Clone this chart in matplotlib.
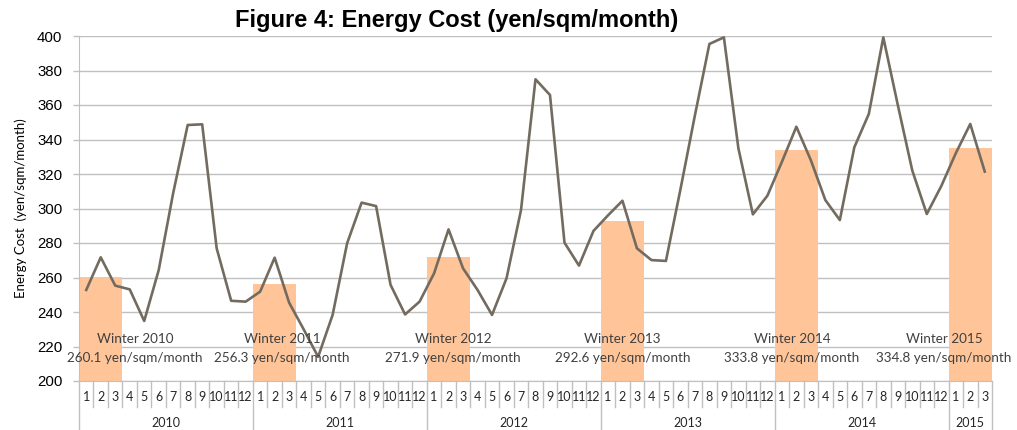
import numpy as np
import matplotlib
matplotlib.use("Agg")
import matplotlib.pyplot as plt
import matplotlib.transforms as mtransforms

# monthly energy cost, Jan 2010 .. Mar 2015
years = [2010, 2011, 2012, 2013, 2014, 2015]
months_per_year = [12, 12, 12, 12, 12, 3]
cost = [
    252.8, 271.7, 255.3, 253.1, 234.8, 264.3, 309.0, 348.4, 348.8, 276.9, 246.5, 246.0,
    251.8, 271.5, 245.4, 230.0, 214.0, 238.3, 279.8, 303.4, 301.4, 255.7, 238.6, 246.0,
    262.4, 287.9, 265.3, 252.8, 238.3, 259.5, 299.1, 374.9, 365.8, 280.2, 266.9, 287.0,
    296.0, 304.5, 276.9, 270.1, 269.6, 311.0, 354.0, 395.4, 399.2, 334.9, 296.6, 307.4,
    327.0, 347.4, 328.0, 304.9, 293.3, 335.5, 354.8, 399.2, 360.0, 322.0, 296.8, 313.0,
    332.0, 349.0, 321.4,
]
# winter (Jan-Mar) averages
winter_avg = [260.1, 256.3, 271.9, 292.6, 333.8, 334.8]

# label placement (month index of text centre)
label_x = [3.36, 13.5, 25.3, 37.0, 48.7, 59.2]

text_font = "Lato"
grid_col = "#C0C0C0"
x = np.arange(len(cost))

fig = plt.figure(figsize=(10.17, 4.30), dpi=100)
ax = fig.add_axes([79 / 1017, 1 - 381 / 430, (992 - 79) / 1017, 345 / 430])

# winter bars centred on February, spanning Jan-Mar
starts = np.cumsum([0] + months_per_year[:-1])
ax.bar(starts + 1, winter_avg, width=3, color="#FFC599", zorder=2)

ax.plot(x, cost, color="#736B5F", linewidth=1.9, zorder=3)

for i, (yr, val) in enumerate(zip(years, winter_avg)):
    ax.text(label_x[i], 224.3, f"Winter {yr}", ha="center", va="center",
            fontsize=9.7, family=text_font, color="#404040", zorder=4)
    ax.text(label_x[i], 213.6, f"{val:.1f} yen/sqm/month", ha="center", va="center",
            fontsize=9.7, family=text_font, color="#404040", zorder=4)

ax.set_xlim(-0.5, len(cost) - 0.5)
ax.set_ylim(200, 400)
ax.set_yticks(np.arange(200, 401, 20))
ax.yaxis.grid(True, color=grid_col, linewidth=1.0, zorder=0)
ax.set_axisbelow(True)
ax.tick_params(axis="y", length=4.5, width=1.0, color=grid_col, pad=7.5,
               labelsize=10.8)
for lab in ax.get_yticklabels():
    lab.set_family("Liberation Sans")
ax.set_xticks([])
for s in ["top", "right"]:
    ax.spines[s].set_visible(False)
ax.spines["left"].set_color(grid_col)
ax.spines["bottom"].set_color(grid_col)

ax.set_ylabel("Energy Cost  (yen/sqm/month)", fontsize=9.5, family=text_font,
              labelpad=7)

# two-level category axis: months and years
trans = mtransforms.blended_transform_factory(ax.transData, ax.transAxes)
idx = 0
for yr, n in zip(years, months_per_year):
    ax.plot([idx - 0.5, idx - 0.5], [0, -0.142], transform=trans, color=grid_col,
            linewidth=1.0, clip_on=False)
    for m in range(n):
        if m > 0:
            ax.plot([idx + m - 0.5] * 2, [0, -0.075], transform=trans,
                    color=grid_col, linewidth=1.0, clip_on=False)
        ax.text(idx + m, -0.046, str(m + 1), transform=trans, ha="center",
                va="center", fontsize=9, family=text_font, color="#262626")
    ax.text(idx + (n - 1) / 2, -0.122, str(yr), transform=trans, ha="center",
            va="center", fontsize=9, family=text_font, color="#262626")
    idx += n
ax.plot([idx - 0.5, idx - 0.5], [0, -0.142], transform=trans, color=grid_col,
        linewidth=1.0, clip_on=False)

fig.text(457 / 1017, 1 - 20 / 430, "Figure 4: Energy Cost (yen/sqm/month)",
         ha="center", va="center", fontsize=17, fontweight="bold",
         family="Liberation Sans")

fig.savefig("out.png", dpi=100)
